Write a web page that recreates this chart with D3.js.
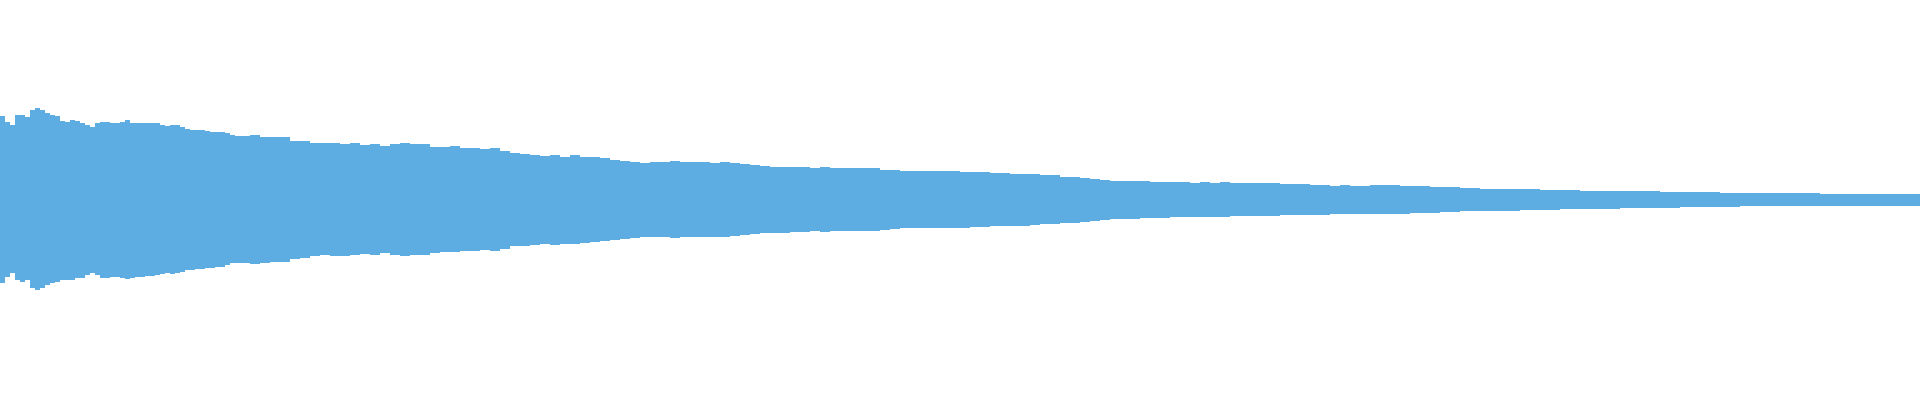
<!DOCTYPE html>
<html>
<head>
<meta charset="utf-8">
<script src="https://cdn.jsdelivr.net/npm/d3@7"></script>
<style>
  html, body { margin: 0; padding: 0; background: #fff; }
  svg { display: block; }
</style>
</head>
<body>
<svg id="chart" width="1920" height="400"></svg>
<script>
// Sample times (seconds) of the waveform envelope
const times = [
  0,0.025,0.05,0.075,0.1,0.125,0.15,0.175,0.2,0.225,0.25,0.275,0.3,0.325,0.35,0.375,0.4,0.425,0.45,0.475,0.5,0.525,0.55,0.575,0.6,0.625,0.65,0.675,0.7,0.725,0.75,0.775,0.8,0.825,0.85,0.875,0.9,0.925,0.95,0.975,1,1.025,1.05,1.075,1.1,1.125,1.15,1.175,
  1.2,1.25,1.3,1.35,1.4,1.45,1.5,1.55,1.6,1.65,1.7,1.75,1.8,1.85,1.9,1.95,2,2.05,2.1,2.15,2.2,2.25,2.3,2.35,2.4,2.45,2.5,2.55,2.6,2.65,2.7,2.75,2.8,2.85,2.9,2.95,3,3.05,3.1,3.15,3.2,3.25,3.3,3.35,3.4,3.45,3.5,3.55,3.6,3.65,3.7,3.75,3.8,3.85,3.9,3.95,4,4.05,4.1,4.15,4.2,4.25,4.3,4.35,4.4,4.45,4.5,4.55,4.6,4.65,4.7,4.75,
  4.8,4.85,4.9,4.95,5,5.05,5.1,5.15,5.2,5.25,5.3,5.35,5.4,5.45,5.5,5.55,5.6,5.65,5.7,5.75,5.8,5.85,5.9,5.95,6,6.05,6.1,6.15,6.2,6.25,6.3,6.35,6.4,6.45,6.5,6.55,6.6,6.65,6.7,6.75,6.8,6.85,6.9,6.95,7,7.05,7.1,7.15,
  7.2,7.3,7.4,7.5,7.6,7.7,7.8,7.9,8,8.1,8.2,8.3,8.4,8.5,8.6,8.7,8.8,8.9,9,9.1,9.2,9.3,9.4,9.5,9.6
];

// Peak (max) amplitude, percent of full scale
const peakMax = [
  42,39,37.5,42.5,42.5,41.5,45,46,45,43.5,42.5,42,39.5,39,40,39.5,38.5,37.5,36.5,38.5,39,39,38.5,38.5,39,40,38.5,38.5,38.5,38.5,38.5,38.5,37.5,37,37.5,37.5,36.5,35.5,35,35,35,34.5,34,34,34,33.5,32.5,32,
  32,32.5,31.5,31.5,31.5,29.5,29.5,28.5,28.5,28.5,28,28.5,27.5,28,27,28,28.5,28,28,26.5,26.5,27,26,26,
  25.5,26,24.5,23.5,23,22.5,22,22.5,21.5,22.5,21.5,21.5,21,20,19.5,19,18.5,19,19,19.5,19,19,19,18.5,
  19,18.5,18,17.5,17,16.5,16.5,16.5,16.5,16,16.5,16,16,16,16,16,15,15,14.5,14.5,14.5,14.5,14.5,14.5,
  14,14,14,13.5,13.5,13,13,13,12.5,12.5,11.5,11.5,11,10.5,10,9.5,9.5,9.5,9.5,9,9,9,9,8.5,
  9,8.5,9,8.5,8.5,8.5,8.5,8.5,8,8,8,7.5,7.5,7,7.5,7,7,7.5,7.5,7.5,7,7,7,6.5,
  6.5,6,5.5,5.5,5.5,5,5,4.5,4.5,4.5,4.5,4,4,4,3.5,3.5,3.5,3.5,3.5,3,3,3,3,3,3
];

// Trough (min) amplitude, percent of full scale
const peakMin = [
  -41.5,-38.5,-36.5,-40,-41,-40,-44,-45,-44,-42.5,-41.5,-41,-40,-40,-40,-39,-39,-37.5,-36.5,-37.5,-39,-39,-38.5,-38.5,-39,-39.5,-39,-38.5,-38.5,-38,-38,-37.5,-37,-36.5,-37,-36.5,-36,-35,-35,-34.5,-34.5,-34,-34,-33.5,-33.5,-32.5,-31.5,-31.5,
  -31.5,-32,-31.5,-31,-31,-29.5,-29,-28,-27.5,-28,-28,-27.5,-27,-27.5,-26.5,-27.5,-28,-27.5,-27.5,-26.5,-26,-26,-25.5,-25.5,
  -25,-25.5,-24.5,-23,-23,-22.5,-22,-22.5,-22,-22,-21.5,-21,-20.5,-20,-19.5,-19,-18.5,-18.5,-18.5,-19,-18.5,-18.5,-18.5,-18.5,
  -18.5,-18,-17.5,-17,-16.5,-16.5,-16.5,-16,-16,-15.5,-16,-15.5,-15.5,-15.5,-15.5,-15.5,-15,-14.5,-14,-14,-14,-14,-14,-14,
  -14,-13.5,-13.5,-13,-13,-13,-13,-12.5,-12,-12,-11.5,-11.5,-11,-10.5,-10,-9.5,-9.5,-9.5,-9,-9,-9,-8.5,-8.5,-8.5,
  -8.5,-8.5,-8.5,-8,-8,-8,-8,-8,-7.5,-7.5,-7.5,-7.5,-7.5,-7,-7,-7,-7,-7,-7,-7,-7,-6.5,-6.5,-6.5,
  -6,-5.5,-5.5,-5.5,-5,-5,-4.5,-4.5,-4.5,-4,-4,-4,-3.5,-3.5,-3.5,-3,-3,-3,-3,-3,-3,-3,-3,-3,-3
];

const width = 1920, height = 400;
const svg = d3.select("#chart");

const x = d3.scaleLinear().domain([0, 9.6]).range([0, width]);
const y = d3.scaleLinear().domain([-100, 100]).range([height, 0]);

const data = times.map((t, i) => ({ t, hi: peakMax[i], lo: peakMin[i] }));

const area = d3.area()
  .x(d => x(d.t))
  .y0(d => y(d.lo))
  .y1(d => y(d.hi))
  .curve(d3.curveStepAfter);

svg.append("path")
  .datum(data)
  .attr("d", area)
  .attr("fill", "#5dade2")
  .attr("shape-rendering", "crispEdges");
</script>
</body>
</html>
